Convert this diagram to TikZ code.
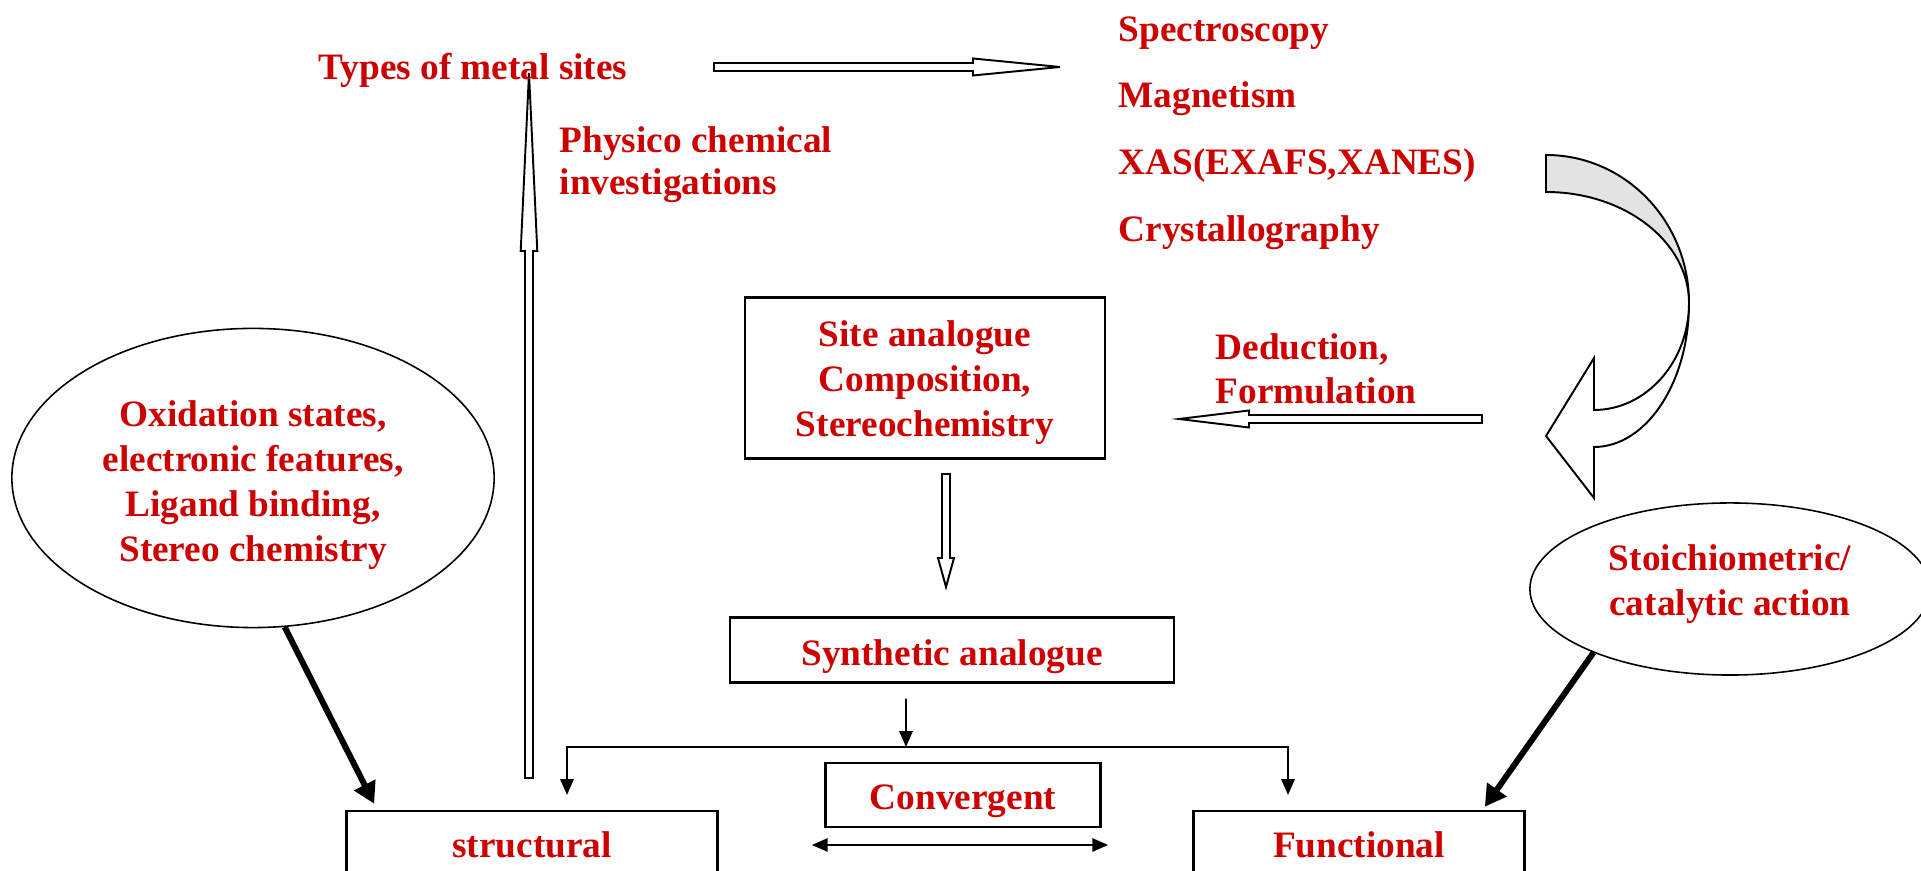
\documentclass[tikz,border=0pt]{standalone}
\usepackage{fontspec}
\setmainfont{Liberation Serif}
\usepackage{xcolor}
\usepackage{tikz}
\usetikzlibrary{shapes.geometric}
\usetikzlibrary{arrows.meta}
\definecolor{sitered}{RGB}{204,0,0}
\tikzset{
  lbl/.style = {text=sitered, font=\fontsize{10.6}{12.8}\selectfont\bfseries, inner sep=0pt},
  tbox/.style = {lbl, draw=black, line width=0.7pt, align=center},
  oval/.style = {lbl, ellipse, draw=black, line width=0.45pt, align=center},
  inside/.style = {lbl, align=center},
  hollow/.style = {draw=black, fill=white, line width=0.55pt, line join=miter},
  thinarrow/.style = {line width=0.5pt, -{Triangle[length=4.5pt, width=3.8pt]}},
  dblarrow/.style = {line width=0.5pt, {Triangle[length=4.5pt, width=3.8pt]}-{Triangle[length=4.5pt, width=3.8pt]}},
  heavyarrow/.style = {line width=1.7pt, -{Triangle[length=6pt, width=6.5pt]}}
}
\begin{document}
\begin{tikzpicture}[x=0.01cm, y=-0.01cm]
\clip (0,0) rectangle (1921,871);

\coordinate (uptip) at (529,73);
\coordinate (righttip) at (1060,67);
\coordinate (lefttip) at (1179,419);
\coordinate (downtip) at (946,587);
\coordinate (split) at (906,747);
\coordinate (splitL) at (567,747);
\coordinate (splitR) at (1288,747);
\coordinate (endL) at (567,795);
\coordinate (endR) at (1288,795);

\draw[hollow, shift={(uptip)}] (0,0) -- (-8.3,178) -- (-4,178) -- (-4,705)
    -- (4,705) -- (4,178) -- (8.3,178) -- cycle;
\draw[hollow, shift={(righttip)}] (0,0) -- (-87,-8.5) -- (-87,-4) -- (-346,-4)
    -- (-346,4) -- (-87,4) -- (-87,8.5) -- cycle;
\draw[hollow, shift={(lefttip)}] (0,0) -- (70,-8.5) -- (70,-4) -- (303,-4)
    -- (303,4) -- (70,4) -- (70,8.5) -- cycle;
\draw[hollow, shift={(downtip)}] (0,0) -- (-8,-29) -- (-4,-29) -- (-4,-113)
    -- (4,-113) -- (4,-29) -- (8,-29) -- cycle;

\filldraw[fill=black!11, line width=0.55pt] (1546,155) .. controls (1625,155) and (1689,221) .. (1689,303)
    .. controls (1689,242) and (1625,192) .. (1546,192) -- cycle;
\filldraw[fill=white, line width=0.55pt, line join=miter] (1689,303) .. controls (1689,383) and (1646,447) .. (1594,447)
    -- (1594,498) -- (1546,436) -- (1594,358) -- (1594,410)
    .. controls (1646,410) and (1689,362) .. (1689,303) -- cycle;

\node[lbl, anchor=base] (types) at (473,80) {Types of metal sites};
\node[lbl, anchor=base west] (spec) at (1118,42) {Spectroscopy};
\node[lbl, anchor=base west] (magn) at (1118,108) {Magnetism};
\node[lbl, anchor=base west] (xas) at (1118,175) {XAS(EXAFS,XANES)};
\node[lbl, anchor=base west] (cryst) at (1118,242) {Crystallography};
\node[lbl, anchor=base west] (phys1) at (559,153) {Physico chemical};
\node[lbl, anchor=base west] (phys2) at (559,195) {investigations};
\node[lbl, anchor=base west] (ded1) at (1215,360) {Deduction,};
\node[lbl, anchor=base west] (ded2) at (1215,404) {Formulation};

\node[oval, minimum width=4.82cm, minimum height=2.99cm,
    label={[inside, yshift=-0.07cm]center:{Oxidation states,\\electronic features,\\Ligand binding,\\Stereo chemistry}}]
    (oxid) at (253,478) {};
\node[oval, minimum width=4cm, minimum height=1.72cm,
    label={[inside, yshift=0.05cm]center:{Stoichiometric/\\catalytic action}}]
    (stoich) at (1730,589) {};
\node[tbox, minimum width=3.6cm, minimum height=1.61cm,
    label={[inside, yshift=-0.05cm]center:{Site analogue\\Composition,\\Stereochemistry}}]
    (site) at (925,378) {};
\node[tbox, minimum width=4.44cm, minimum height=0.65cm,
    label={[inside, yshift=-0.07cm]center:Synthetic analogue}] (synth) at (952,650) {};
\node[tbox, minimum width=2.75cm, minimum height=0.64cm,
    label={[inside, yshift=-0.06cm]center:Convergent}] (conv) at (963,795) {};
\node[tbox, minimum width=3.71cm, minimum height=0.68cm] (struct) at (532,845) {structural};
\node[tbox, minimum width=3.31cm, minimum height=0.68cm] (func) at (1359,845) {Functional};

\draw[heavyarrow] (oxid.282) -- ([xshift=0.29cm, yshift=0.06cm]struct.north west);
\draw[heavyarrow] (stoich.205) -- ([xshift=-0.41cm, yshift=0.03cm]func.north east);
\draw[thinarrow] ([xshift=-0.46cm, yshift=-0.15cm]synth.south) -- (split);
\draw[thinarrow] (split) -- (splitL) -- (endL);
\draw[thinarrow] (split) -- (splitR) -- (endR);
\draw[dblarrow] ([xshift=0.93cm]struct.east) -- ([xshift=-0.84cm]func.west);
\end{tikzpicture}
\end{document}
